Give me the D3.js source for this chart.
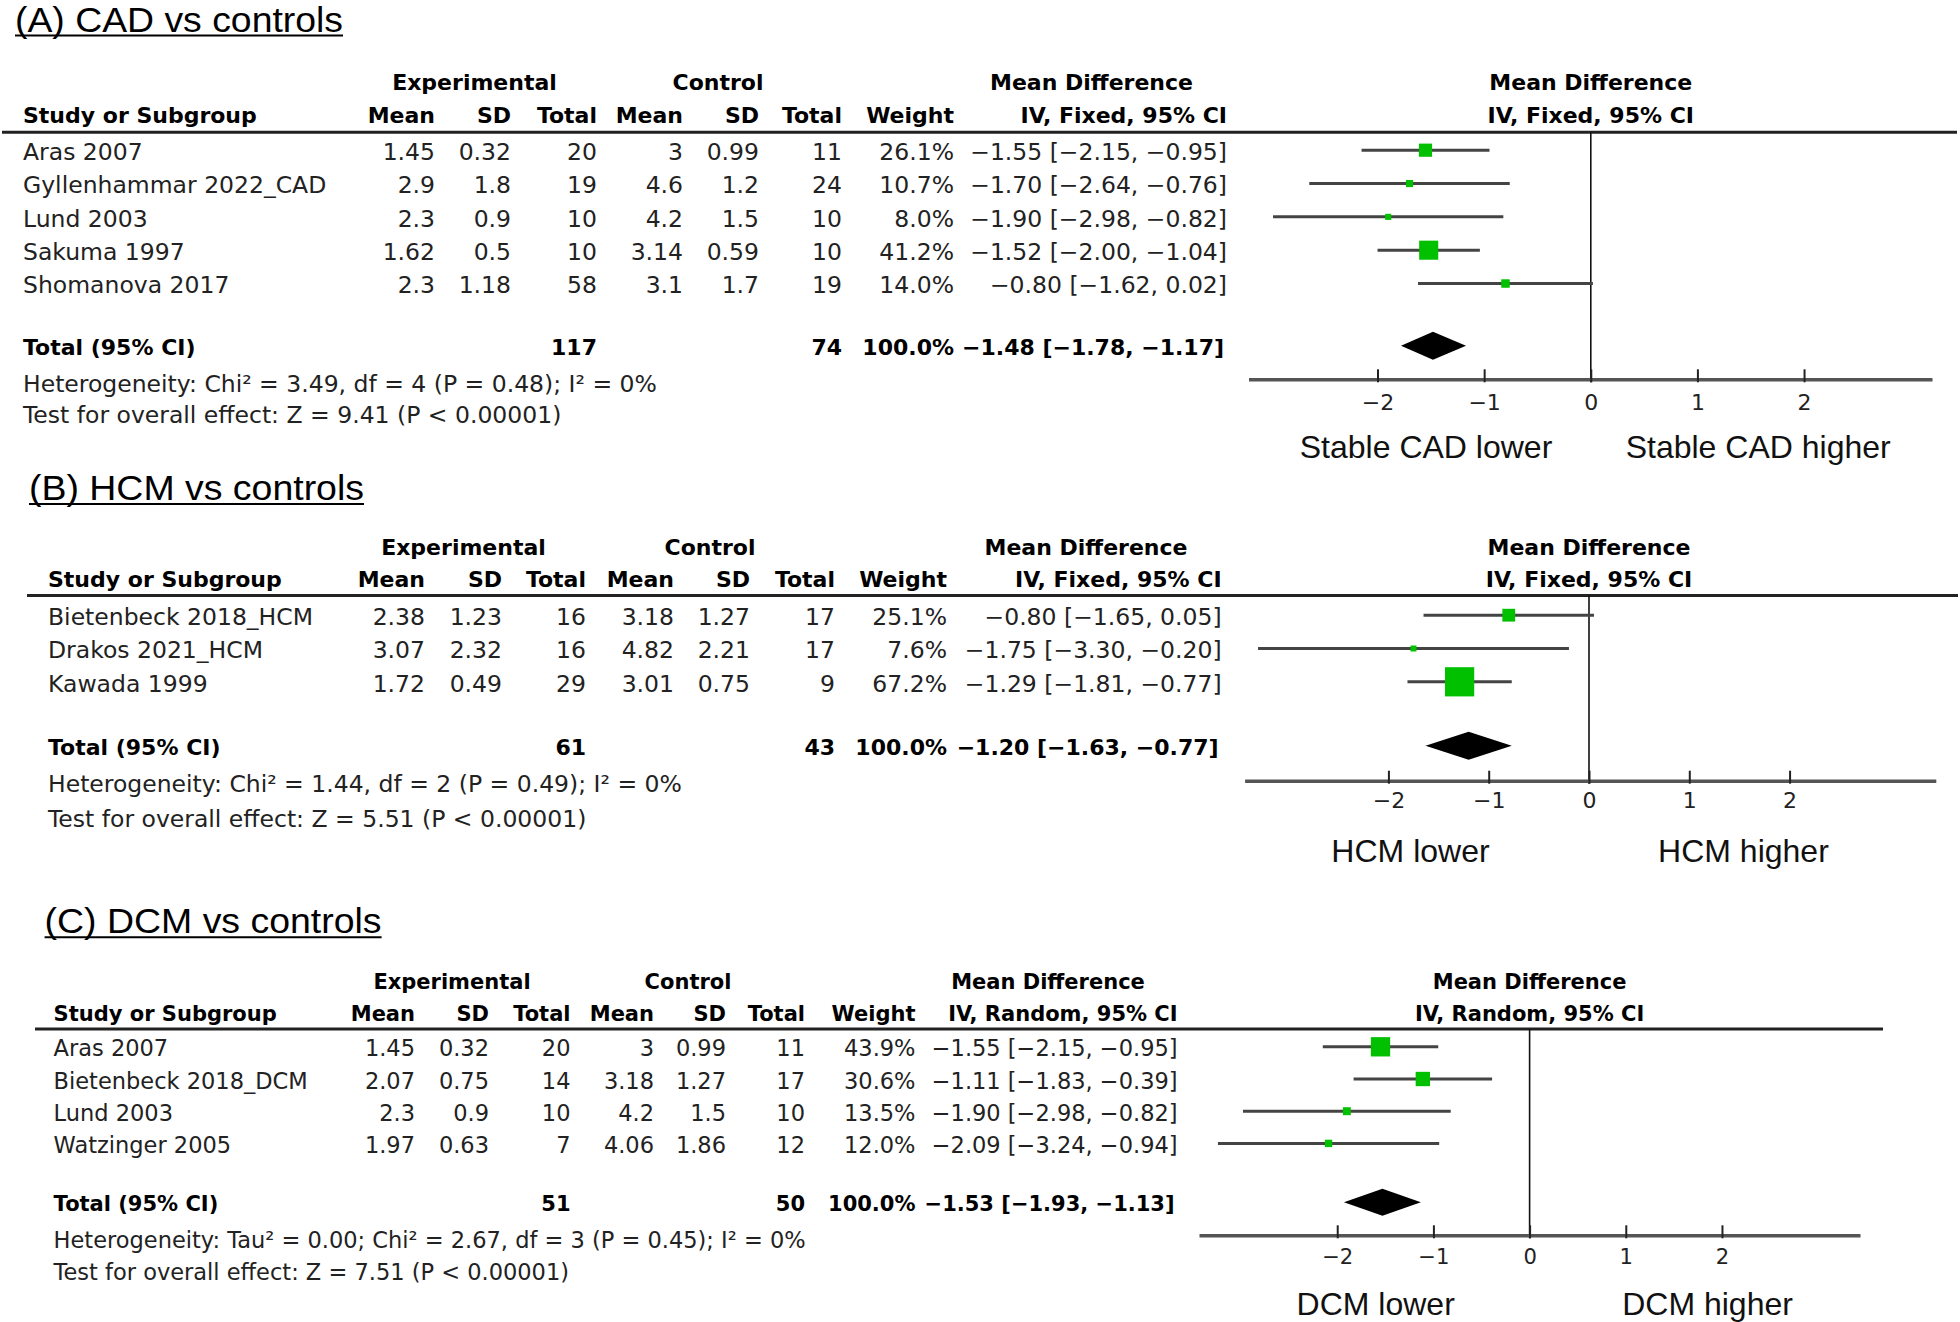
<!DOCTYPE html>
<html><head><meta charset="utf-8">
<script src="https://cdn.jsdelivr.net/npm/d3@7"></script>
<style>body{margin:0;background:#fff} svg{display:block}</style>
</head><body>
<svg id="c" width="1960" height="1322"></svg>
<script>
// ---------------- DATA ----------------
// (A) CAD vs controls
const cadStudies = ["Aras 2007", "Gyllenhammar 2022_CAD", "Lund 2003", "Sakuma 1997", "Shomanova 2017"];
const cadExpMean = [1.45, 2.9, 2.3, 1.62, 2.3];
const cadExpSD   = [0.32, 1.8, 0.9, 0.5, 1.18];
const cadExpN    = [20, 19, 10, 10, 58];
const cadCtlMean = [3, 4.6, 4.2, 3.14, 3.1];
const cadCtlSD   = [0.99, 1.2, 1.5, 0.59, 1.7];
const cadCtlN    = [11, 24, 10, 10, 19];
const cadWeight  = [26.1, 10.7, 8.0, 41.2, 14.0];
const cadMD      = [-1.55, -1.70, -1.90, -1.52, -0.80];
const cadLo      = [-2.15, -2.64, -2.98, -2.00, -1.62];
const cadHi      = [-0.95, -0.76, -0.82, -1.04, 0.02];
const cadPooled  = [-1.48, -1.78, -1.17];   // MD, lower, upper
const cadTotals  = [117, 74];               // experimental, control
const cadHet     = [3.49, 4, 0.48, 0];      // Chi2, df, P, I2
const cadZ       = 9.41;

// (B) HCM vs controls
const hcmStudies = ["Bietenbeck 2018_HCM", "Drakos 2021_HCM", "Kawada 1999"];
const hcmExpMean = [2.38, 3.07, 1.72];
const hcmExpSD   = [1.23, 2.32, 0.49];
const hcmExpN    = [16, 16, 29];
const hcmCtlMean = [3.18, 4.82, 3.01];
const hcmCtlSD   = [1.27, 2.21, 0.75];
const hcmCtlN    = [17, 17, 9];
const hcmWeight  = [25.1, 7.6, 67.2];
const hcmMD      = [-0.80, -1.75, -1.29];
const hcmLo      = [-1.65, -3.30, -1.81];
const hcmHi      = [0.05, -0.20, -0.77];
const hcmPooled  = [-1.20, -1.63, -0.77];
const hcmTotals  = [61, 43];
const hcmHet     = [1.44, 2, 0.49, 0];
const hcmZ       = 5.51;

// (C) DCM vs controls
const dcmStudies = ["Aras 2007", "Bietenbeck 2018_DCM", "Lund 2003", "Watzinger 2005"];
const dcmExpMean = [1.45, 2.07, 2.3, 1.97];
const dcmExpSD   = [0.32, 0.75, 0.9, 0.63];
const dcmExpN    = [20, 14, 10, 7];
const dcmCtlMean = [3, 3.18, 4.2, 4.06];
const dcmCtlSD   = [0.99, 1.27, 1.5, 1.86];
const dcmCtlN    = [11, 17, 10, 12];
const dcmWeight  = [43.9, 30.6, 13.5, 12.0];
const dcmMD      = [-1.55, -1.11, -1.90, -2.09];
const dcmLo      = [-2.15, -1.83, -2.98, -3.24];
const dcmHi      = [-0.95, -0.39, -0.82, -0.94];
const dcmPooled  = [-1.53, -1.93, -1.13];
const dcmTotals  = [51, 50];
const dcmTau2    = 0.00;
const dcmHet     = [2.67, 3, 0.45, 0];
const dcmZ       = 7.51;

const tickValues = [-2, -1, 0, 1, 2];
const panelTitles = ["(A) CAD vs controls", "(B) HCM vs controls", "(C) DCM vs controls"];
const methodLabels = ["IV, Fixed, 95% CI", "IV, Fixed, 95% CI", "IV, Random, 95% CI"];
const favourLabels = [["Stable CAD lower", "Stable CAD higher"], ["HCM lower", "HCM higher"], ["DCM lower", "DCM higher"]];
const colHeaders = ["Mean", "SD", "Total", "Mean", "SD", "Total", "Weight"];

// ---------------- LAYOUT ----------------
const layouts = [
  {titleX:15, titleBase:31.5, titleW:328, grpY:81.7, hdrY:115, ruleY:132.3, ruleX:[2,1957], row0:151.7, step:33.33,
   totalY:346.7, hetY:383.3, testY:415, axisY:379.3, tickPad:15, lblBase:458,
   textX:23, cols:[435,511,597,683,759,842,954,1227], grp:[474.5,718,1091.5],
   xRange:[1248.5,1932], xDomain:[-3.21,3.20], fs:23.5, fsB:22, sc:1, lblX:[-1.545,1.57]},
  {titleX:29, titleBase:500, titleW:335, grpY:546.7, hdrY:579.3, ruleY:595.5, ruleX:[27,1958], row0:616.7, step:33.3,
   totalY:746.7, hetY:783.3, testY:818.3, axisY:780.7, tickPad:12, lblBase:861.5,
   textX:48, cols:[425,502,586,674,750,835,947,1221.6], grp:[463.5,710,1086],
   xRange:[1244.6,1935.8], xDomain:[-3.434,3.458], fs:23.5, fsB:22, sc:1, lblX:[-1.78,1.54]},
  {titleX:44.6, titleBase:933.3, titleW:337, grpY:981.7, hdrY:1013.3, ruleY:1029, ruleX:[35,1883], row0:1048.3, step:32.2,
   totalY:1203.3, hetY:1240, testY:1271.7, axisY:1235.3, tickPad:14, lblBase:1314.8,
   textX:53.6, cols:[415,489,570.5,654,726,805,915.5,1177.6], grp:[452,688,1048],
   xRange:[1199,1860], xDomain:[-3.437,3.435], fs:22.5, fsB:21, sc:0.96, lblX:[-1.6,1.85]}
];

const panels = [
  {studies:cadStudies, em:cadExpMean, es:cadExpSD, en:cadExpN, cm:cadCtlMean, cs:cadCtlSD, cn:cadCtlN,
   w:cadWeight, md:cadMD, lo:cadLo, hi:cadHi, pooled:cadPooled, totals:cadTotals, het:cadHet, z:cadZ, tau2:null},
  {studies:hcmStudies, em:hcmExpMean, es:hcmExpSD, en:hcmExpN, cm:hcmCtlMean, cs:hcmCtlSD, cn:hcmCtlN,
   w:hcmWeight, md:hcmMD, lo:hcmLo, hi:hcmHi, pooled:hcmPooled, totals:hcmTotals, het:hcmHet, z:hcmZ, tau2:null},
  {studies:dcmStudies, em:dcmExpMean, es:dcmExpSD, en:dcmExpN, cm:dcmCtlMean, cs:dcmCtlSD, cn:dcmCtlN,
   w:dcmWeight, md:dcmMD, lo:dcmLo, hi:dcmHi, pooled:dcmPooled, totals:dcmTotals, het:dcmHet, z:dcmZ, tau2:dcmTau2}
];

// ---------------- DRAW ----------------
const svg = d3.select("#c");
const f2 = d3.format(".2f"), f1 = d3.format(".1f");
const ciText = (m, l, h) => `${f2(m)} [${f2(l)}, ${f2(h)}]`;
const TF = "'DejaVu Sans', Verdana, sans-serif";
const AF = "'Liberation Sans', Arial, sans-serif";
const boxScale = d3.scaleLinear().domain([0, 100]).range([3, 42]);

panels.forEach((p, k) => {
  const L = layouts[k];
  const g = svg.append("g");
  const x = d3.scaleLinear().domain(L.xDomain).range(L.xRange);

  // Title with underline
  g.append("text").attr("x", L.titleX).attr("y", L.titleBase)
    .attr("font-family", AF).attr("font-size", 34.5).attr("fill", "#000")
    .attr("textLength", L.titleW).attr("lengthAdjust", "spacingAndGlyphs").text(panelTitles[k]);
  g.append("line").attr("x1", L.titleX).attr("x2", L.titleX + L.titleW)
    .attr("y1", L.titleBase + 4).attr("y2", L.titleBase + 4).attr("stroke", "#000").attr("stroke-width", 2);

  const txt = (xx, yy, s, opt = {}) => g.append("text")
    .attr("x", xx).attr("y", yy).attr("dy", "0.36em")
    .attr("text-anchor", opt.anchor || "start")
    .attr("font-family", TF).attr("font-size", opt.bold ? L.fsB : L.fs)
    .attr("font-weight", opt.bold ? "bold" : "normal")
    .attr("fill", opt.bold ? "#000" : "#222").text(s);

  // group headers
  txt(L.grp[0], L.grpY, "Experimental", {bold:true, anchor:"middle"});
  txt(L.grp[1], L.grpY, "Control", {bold:true, anchor:"middle"});
  txt(L.grp[2], L.grpY, "Mean Difference", {bold:true, anchor:"middle"});
  txt(x(0), L.grpY, "Mean Difference", {bold:true, anchor:"middle"});
  // column headers
  txt(L.textX, L.hdrY, "Study or Subgroup", {bold:true});
  colHeaders.forEach((h, i) => txt(L.cols[i], L.hdrY, h, {bold:true, anchor:"end"}));
  txt(L.cols[7], L.hdrY, methodLabels[k], {bold:true, anchor:"end"});
  txt(x(0), L.hdrY, methodLabels[k], {bold:true, anchor:"middle"});

  // header rule
  g.append("line").attr("x1", L.ruleX[0]).attr("x2", L.ruleX[1])
    .attr("y1", L.ruleY).attr("y2", L.ruleY).attr("stroke", "#222").attr("stroke-width", 3);

  // study rows
  p.studies.forEach((s, i) => {
    const yy = L.row0 + i * L.step;
    txt(L.textX, yy, s);
    const vals = [String(p.em[i]), String(p.es[i]), String(p.en[i]), String(p.cm[i]),
                  String(p.cs[i]), String(p.cn[i]), f1(p.w[i]) + "%", ciText(p.md[i], p.lo[i], p.hi[i])];
    vals.forEach((v, j) => txt(L.cols[j], yy, v, {anchor:"end"}));
  });

  // totals
  txt(L.textX, L.totalY, "Total (95% CI)", {bold:true});
  txt(L.cols[2], L.totalY, String(p.totals[0]), {bold:true, anchor:"end"});
  txt(L.cols[5], L.totalY, String(p.totals[1]), {bold:true, anchor:"end"});
  txt(L.cols[6], L.totalY, f1(100) + "%", {bold:true, anchor:"end"});
  txt(L.cols[7] - 3, L.totalY, ciText(p.pooled[0], p.pooled[1], p.pooled[2]), {bold:true, anchor:"end"});

  const het = p.het;
  const hetStr = (p.tau2 !== null ? `Heterogeneity: Tau² = ${p.tau2.toFixed(2)}; Chi² = ` : "Heterogeneity: Chi² = ")
    + `${het[0].toFixed(2)}, df = ${het[1]} (P = ${het[2].toFixed(2)}); I² = ${het[3]}%`;
  txt(L.textX, L.hetY, hetStr);
  txt(L.textX, L.testY, `Test for overall effect: Z = ${p.z.toFixed(2)} (P < 0.00001)`);

  // zero line
  g.append("line").attr("x1", x(0)).attr("x2", x(0))
    .attr("y1", L.ruleY).attr("y2", L.axisY + 3).attr("stroke", "#111").attr("stroke-width", 1.6);

  // CI lines + boxes
  p.studies.forEach((s, i) => {
    const yy = L.row0 + i * L.step - 1.5;
    g.append("line").attr("x1", x(p.lo[i])).attr("x2", x(p.hi[i]))
      .attr("y1", yy).attr("y2", yy).attr("stroke", "#444").attr("stroke-width", 3);
    const b = boxScale(p.w[i]) * L.sc;
    g.append("rect").attr("x", x(p.md[i]) - b / 2).attr("y", yy - b / 2)
      .attr("width", b).attr("height", b).attr("fill", "#00c000");
  });

  // diamond
  const dy = L.totalY - 1, hh = 14 * L.sc;
  g.append("polygon").attr("points", [
    [x(p.pooled[1]), dy], [x(p.pooled[0]), dy - hh], [x(p.pooled[2]), dy], [x(p.pooled[0]), dy + hh]
  ].map(q => q.join(",")).join(" ")).attr("fill", "#000");

  // axis
  const ax = g.append("g").attr("transform", `translate(0,${L.axisY})`)
    .call(d3.axisBottom(x).tickValues(tickValues).tickFormat(d3.format("d"))
      .tickSizeInner(-10).tickSizeOuter(0).tickPadding(L.tickPad));
  ax.select(".domain").attr("stroke", "#555").attr("stroke-width", 3.5);
  ax.selectAll(".tick line").attr("stroke", "#222").attr("stroke-width", 2).attr("y1", 3);
  ax.selectAll(".tick text").attr("font-family", TF).attr("font-size", 22 * L.sc).attr("fill", "#222");

  // favours labels
  favourLabels[k].forEach((lab, i) => {
    g.append("text").attr("x", x(L.lblX[i])).attr("y", L.lblBase).attr("text-anchor", "middle")
      .attr("font-family", AF).attr("font-size", 32).attr("fill", "#111").text(lab);
  });
});
</script>
</body></html>
